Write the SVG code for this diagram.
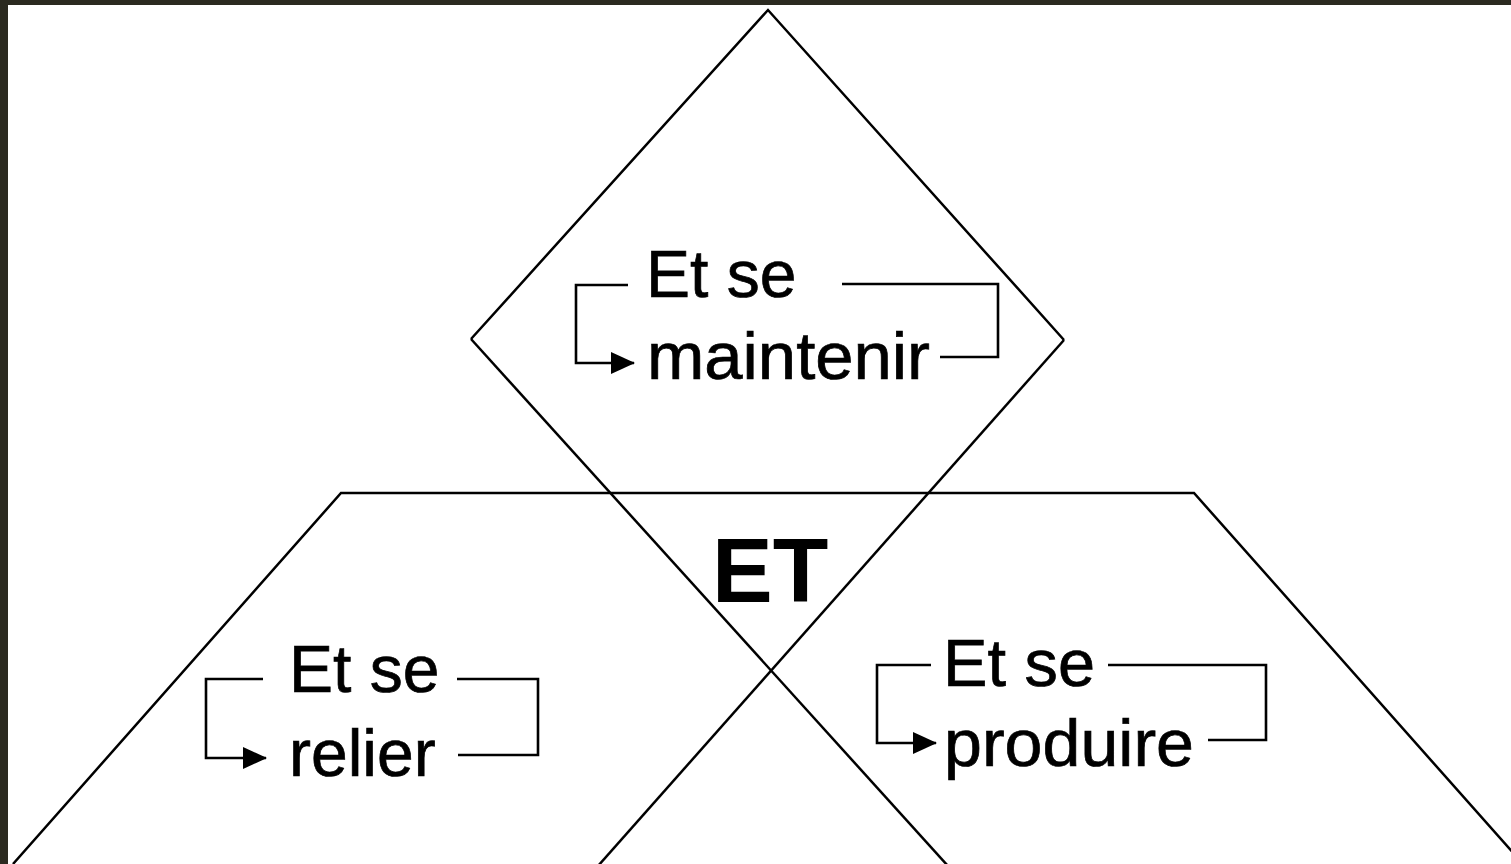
<svg xmlns="http://www.w3.org/2000/svg" width="1511" height="864" viewBox="0 0 1511 864">
<style>
.ln{fill:none;stroke:#000;stroke-width:2.5}
.br{fill:none;stroke:#000;stroke-width:2.6}
.t{font-family:"Liberation Sans",Arial,sans-serif;font-size:66px;fill:#000;stroke:#000;stroke-width:0.7}
.b{font-family:"Liberation Sans",Arial,sans-serif;font-size:91px;font-weight:bold;fill:#000}
</style>
<defs>
<marker id="arr" viewBox="0 0 24 24" markerWidth="24" markerHeight="24" refX="23" refY="12" orient="auto" markerUnits="userSpaceOnUse">
<path d="M0,1 L24,12 L0,23 Z" fill="#000"/>
</marker>
</defs>
<rect x="0" y="0" width="1511" height="864" fill="#fff"/>
<rect x="0" y="0" width="1511" height="5" fill="#2b2a20"/>
<rect x="0" y="0" width="8" height="864" fill="#2b2a20"/>
<g id="connectors">
<path class="ln" d="M471,339 L768,10 L1064,340"/>
<path class="ln" d="M471,339 L948,866"/>
<path class="ln" d="M1064,340 L598,866"/>
<path class="ln" d="M13,864 L341,493 L1194,493 L1523,864"/>
</g>
<g id="node-maintenir">
<path class="br" d="M628,285 L576,285 L576,363 L634,363" marker-end="url(#arr)"/>
<path class="br" d="M842,284 L998,284 L998,357 L940,357"/>
<text class="t" x="646" y="297">Et se</text>
<text class="t" x="647" y="379" textLength="283" lengthAdjust="spacingAndGlyphs">maintenir</text>
</g>
<g id="node-relier">
<path class="br" d="M263,679 L206,679 L206,758 L266,758" marker-end="url(#arr)"/>
<path class="br" d="M457,679 L538,679 L538,755 L458,755"/>
<text class="t" x="289" y="692">Et se</text>
<text class="t" x="289" y="776">relier</text>
</g>
<g id="node-produire">
<path class="br" d="M931,665 L877,665 L877,743 L936,743" marker-end="url(#arr)"/>
<path class="br" d="M1108,665 L1266,665 L1266,740 L1208,740"/>
<text class="t" x="943" y="686" textLength="152" lengthAdjust="spacingAndGlyphs">Et se</text>
<text class="t" x="944" y="766" textLength="250" lengthAdjust="spacingAndGlyphs">produire</text>
</g>
<g id="node-et">
<text class="b" x="712" y="602">ET</text>
</g>
</svg>
